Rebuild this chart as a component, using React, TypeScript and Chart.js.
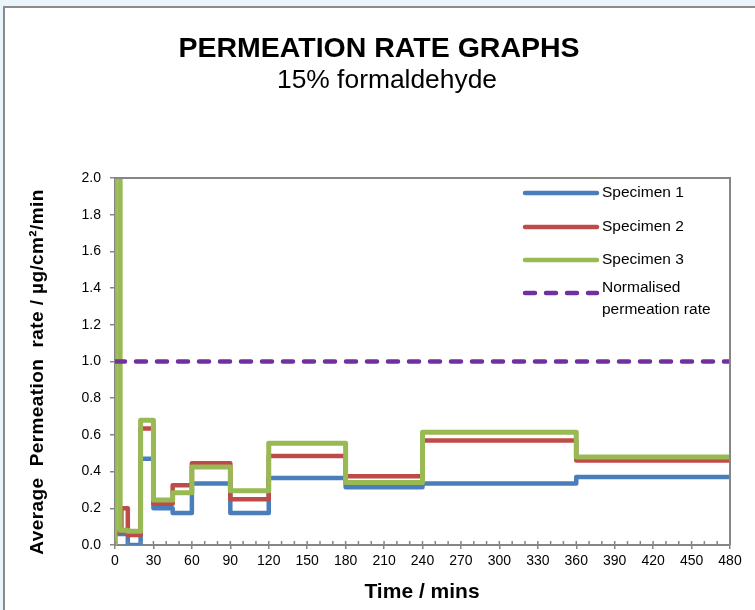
import React, { useEffect, useRef } from "react";
import { Chart, registerables } from "chart.js";

Chart.register(...registerables);

// ---- data ----
const times = [0, 0, 5, 10, 20, 30, 45, 60, 90, 120, 180, 240, 360, 480];
const specimen1 = [0, 0.06, 0.06, 0, 0.47, 0.2, 0.175, 0.335, 0.175, 0.365, 0.315, 0.335, 0.37, 0.37];
const specimen2 = [0, 0.07, 0.2, 0.055, 0.635, 0.225, 0.325, 0.445, 0.25, 0.485, 0.375, 0.57, 0.46, 0.46];
const specimen3Times = [0, 0, 4, 10, 20, 30, 45, 60, 90, 120, 180, 240, 360, 480];
const specimen3 = [0, 2.9, 0.08, 0.075, 0.68, 0.245, 0.285, 0.425, 0.295, 0.555, 0.34, 0.615, 0.48, 0.48];
const normalisedTimes = [0, 480];
const normalisedRate = [1, 1];

const seriesNames = ["Specimen 1", "Specimen 2", "Specimen 3", "Normalised rate"];
const legendLabels = [["Specimen 1"], ["Specimen 2"], ["Specimen 3"], ["Normalised", "permeation rate"]];
const colors = ["#4A7EBB", "#BE4B48", "#98B954", "#7030A0"];

const titleText = "PERMEATION RATE GRAPHS";
const subtitleText = "15% formaldehyde";
const xTitle = "Time / mins";
const yTitle = "Average  Permeation  rate / µg/cm²/min";

const FONT = '"Liberation Sans", Arial, sans-serif';

const toPoints = (xs: number[], ys: number[]) => xs.map((x, i) => ({ x, y: ys[i] }));

const decorPlugin = {
  id: "decor",
  beforeDraw(chart: any) {
    const ctx = chart.ctx;
    const W = chart.width;
    const H = chart.height;
    ctx.save();
    ctx.fillStyle = "#eaf5fb";
    ctx.fillRect(0, 0, W, H);
    ctx.fillStyle = "#ffffff";
    ctx.fillRect(5, 8, W - 5, H - 8);
    ctx.strokeStyle = "#8a8a8a";
    ctx.lineWidth = 2;
    ctx.beginPath();
    ctx.moveTo(4, H);
    ctx.lineTo(4, 7);
    ctx.lineTo(W, 7);
    ctx.stroke();

    ctx.fillStyle = "#000";
    ctx.textAlign = "center";
    ctx.textBaseline = "alphabetic";
    ctx.font = `bold 28.5px ${FONT}`;
    ctx.fillText(titleText, 379, 57);
    ctx.font = `26.4px ${FONT}`;
    ctx.fillText(subtitleText, 387, 88);
    ctx.restore();
  },
  afterDraw(chart: any) {
    const ctx = chart.ctx;
    const { left, right, top, bottom } = chart.chartArea;
    const xs = chart.scales.x;
    ctx.save();
    // top and right frame of plot area
    ctx.strokeStyle = "#868686";
    ctx.lineWidth = 2;
    ctx.beginPath();
    ctx.moveTo(left, top);
    ctx.lineTo(right, top);
    ctx.lineTo(right, bottom);
    ctx.stroke();
    // inward minor ticks on x axis
    ctx.lineWidth = 1.5;
    ctx.beginPath();
    for (let t = 0; t <= 480; t += 10) {
      const px = xs.getPixelForValue(t);
      ctx.moveTo(px, bottom);
      ctx.lineTo(px, bottom - 4);
    }
    ctx.stroke();

    // legend
    const lx0 = 525;
    const lx1 = 597;
    const ys = [193, 227, 260, 293];
    ctx.font = `15.5px ${FONT}`;
    ctx.textAlign = "left";
    ctx.textBaseline = "middle";
    ys.forEach((y, i) => {
      ctx.strokeStyle = colors[i];
      ctx.lineWidth = 4.5;
      ctx.lineCap = "round";
      ctx.setLineDash(i === 3 ? [10, 11] : []);
      ctx.beginPath();
      ctx.moveTo(lx0, y);
      ctx.lineTo(lx1, y);
      ctx.stroke();
      ctx.setLineDash([]);
      ctx.fillStyle = "#000";
      const lines = legendLabels[i];
      if (lines.length === 1) {
        ctx.fillText(lines[0], 602, y);
      } else {
        ctx.fillText(lines[0], 602, y - 5);
        ctx.fillText(lines[1], 602, y + 17);
      }
    });

    // axis titles
    ctx.fillStyle = "#000";
    ctx.textAlign = "center";
    ctx.textBaseline = "middle";
    ctx.font = `bold 21px ${FONT}`;
    ctx.fillText(xTitle, 422, 592);
    ctx.translate(38, 372);
    ctx.rotate(-Math.PI / 2);
    ctx.font = `bold 19px ${FONT}`;
    try {
      (ctx as any).letterSpacing = "0.4px";
    } catch (e) {}
    ctx.fillText(yTitle, 0, 0);
    ctx.restore();
  },
};

export default function App() {
  const ref = useRef<HTMLCanvasElement | null>(null);
  useEffect(() => {
    if (!ref.current) return;
    const chart = new Chart(ref.current, {
      type: "line",
      data: {
        datasets: [
          {
            label: seriesNames[3],
            data: toPoints(normalisedTimes, normalisedRate),
            borderColor: colors[3],
            borderWidth: 4.5,
            borderDash: [10, 11],
            borderCapStyle: "round",
            pointRadius: 0,
            order: 0,
          },
          {
            label: seriesNames[2],
            data: toPoints(specimen3Times, specimen3),
            borderColor: colors[2],
            borderWidth: 5,
            stepped: true,
            borderJoinStyle: "round",
            borderCapStyle: "round",
            pointRadius: 0,
            order: 1,
          },
          {
            label: seriesNames[1],
            data: toPoints(times, specimen2),
            borderColor: colors[1],
            borderWidth: 4.5,
            stepped: true,
            borderJoinStyle: "round",
            pointRadius: 0,
            order: 2,
          },
          {
            label: seriesNames[0],
            data: toPoints(times, specimen1),
            borderColor: colors[0],
            borderWidth: 4.5,
            stepped: true,
            borderJoinStyle: "round",
            pointRadius: 0,
            order: 3,
          },
        ],
      },
      options: {
        animation: false,
        responsive: false,
        devicePixelRatio: 1,
        layout: { padding: { top: 178, right: 25, left: 0, bottom: 0 } },
        plugins: { legend: { display: false }, title: { display: false }, tooltip: { enabled: false } },
        scales: {
          x: {
            type: "linear",
            min: 0,
            max: 480,
            afterFit: (s: any) => {
              s.height = 65;
            },
            ticks: {
              stepSize: 30,
              autoSkip: false,
              maxRotation: 0,
              padding: 4,
              color: "#000",
              font: { family: FONT, size: 14 },
            },
            grid: { drawOnChartArea: false, tickLength: 4, color: "#868686", lineWidth: 1.5 },
            border: { color: "#868686", width: 2 },
          },
          y: {
            min: 0,
            max: 2,
            afterFit: (s: any) => {
              s.width = 115;
            },
            ticks: {
              stepSize: 0.2,
              padding: 9,
              color: "#000",
              font: { family: FONT, size: 14 },
              callback: (v: any) => Number(v).toFixed(1),
            },
            grid: { drawOnChartArea: false, tickLength: 5, color: "#868686", lineWidth: 1.5 },
            border: { color: "#868686", width: 2 },
          },
        },
      },
      plugins: [decorPlugin],
    });
    return () => chart.destroy();
  }, []);
  return (
    <div style={{ position: "fixed", left: 0, top: 0, width: 755, height: 610 }}>
      <canvas ref={ref} width={755} height={610} style={{ display: "block" }} />
    </div>
  );
}
